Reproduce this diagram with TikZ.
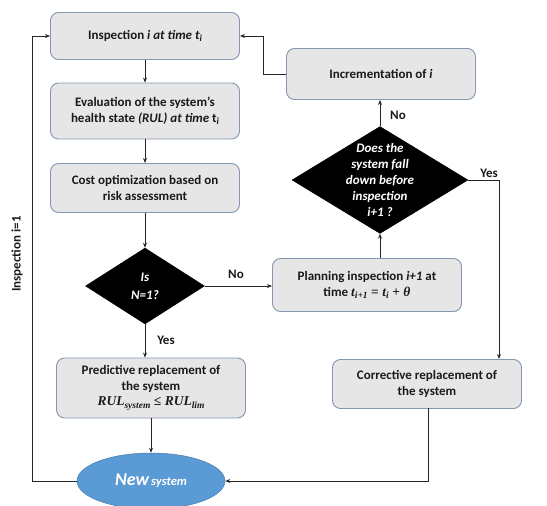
\documentclass[tikz,border=0pt]{standalone}
\usepackage{fontspec}
\setmainfont{Carlito}
\newfontfamily\mfont{Liberation Serif}
\usetikzlibrary{shapes.geometric,arrows.meta}
\definecolor{boxfill}{HTML}{E7E6E6}
\definecolor{boxline}{HTML}{8497B0}
\definecolor{ellfill}{HTML}{5B9BD5}
\definecolor{txt}{HTML}{1A1A1A}
\newcommand{\msub}[1]{\raisebox{-0.35ex}{\fontsize{9.5}{10}\selectfont #1}}
\newcommand{\mtext}[1]{{\mfont\bfseries\itshape #1}}
\newcommand{\mop}[1]{\hspace{3.5pt}{\upshape #1}\hspace{3.5pt}}
\tikzset{
  procbox/.style={draw=boxline, line width=0.9pt, fill=boxfill, rounded corners=8pt,
    minimum width=189pt, align=center, inner sep=2pt, text=txt,
    font=\fontsize{13}{15.5}\selectfont\bfseries},
  decbox/.style={diamond, fill=black, draw=black, inner sep=0pt},
  dectext/.style={text=white, align=center, font=\fontsize{13}{16}\selectfont\bfseries\itshape},
  arr/.style={-{Stealth[length=5pt,width=4pt]}, line width=0.8pt, draw=black!85},
  lbl/.style={font=\fontsize{13}{15}\selectfont\bfseries, text=txt}
}
\begin{document}
\begin{tikzpicture}[x=1pt,y=-1pt]
\useasboundingbox (0,0) rectangle (547,506);
% boxes
\node[procbox, minimum height=47pt] (insp) at (145,36) {Inspection \textit{i at time t\msub{i}}};
\node[procbox, minimum height=56pt] (eval) at (145,111) {Evaluation of the system's\\health state \textit{(RUL) at time} t\msub{\textit{i}}};
\node[procbox, minimum height=49pt] (cost) at (145,188) {Cost optimization based on\\risk assessment};
\node[decbox, minimum width=119pt, minimum height=76pt] (d1) at (145,286) {};
\node[dectext, font=\fontsize{13}{18}\selectfont\bfseries\itshape] (d1t) at (d1.center) {Is\\N=1?};
\node[procbox, minimum height=60pt] (pred) at (151,388) {Predictive replacement of\\the system\\\mtext{\fontsize{13.5}{15.5}\selectfont RUL\msub{system}\mop{≤}RUL\msub{lim}}};
\node[ellipse, fill=ellfill, draw=ellfill!80!black, line width=0.5pt, minimum width=148pt, minimum height=56pt, inner sep=0pt, text=white, font=\bfseries\itshape] (newsys) at (151,481) {{\fontsize{18}{20}\selectfont New} {\fontsize{12.5}{14}\selectfont system}};
\node[procbox, minimum height=51pt] (incr) at (381,74) {Incrementation of \textit{i}};
\node[decbox, minimum width=176pt, minimum height=107pt] (d2) at (380,180) {};
\node[dectext] (d2t) at (d2.center) {Does the\\system fall\\down before\\inspection\\i+1 ?};
\node[procbox, minimum height=53pt] (plan) at (367,285) {Planning inspection \textit{i+1} at\\time \mtext{\fontsize{13.5}{15.5}\selectfont t\msub{i+1}\mop{=}t\msub{i}\mop{+}θ}};
\node[procbox, minimum height=49pt] (corr) at (427,384) {Corrective replacement of\\the system};
% coordinates
\coordinate (lb) at (32,481);
\coordinate (lt) at (32,36);
\coordinate (ib) at (263,74);
\coordinate (it) at (263,36);
\coordinate (cr) at (499,359);
\coordinate (cb) at (428,408);
% connectors
\draw[arr] (insp) -- (eval);
\draw[arr] (eval) -- (cost);
\draw[arr] (cost.south) -- (d1.north);
\draw[arr] (d1.south) -- (d1.south |- pred.north);
\draw[arr] (pred.south) -- (newsys.north);
\draw[arr] (d1.east) -- (d1.east -| plan.west);
\draw[arr] (d2.south |- plan.north) -- (d2.south);
\draw[arr] (d2.north) -- (d2.north |- incr.south);
\draw[arr] (incr.west) -- (ib) -- (it) -- (insp.east);
\draw[arr] (d2.east) -| (cr);
\draw[arr] (cb) |- (newsys.east);
\draw[arr] (newsys.west) -- (lb) -- (lt) -- (insp.west);
% labels
\node[lbl] (yes1) at (166,340) {Yes};
\node[lbl] (no1) at (236,274) {No};
\node[lbl] (no2) at (398,115) {No};
\node[lbl] (yes2) at (489,173) {Yes};
\node[lbl, rotate=90] (insp1) at (17,254) {Inspection i=1};
\end{tikzpicture}
\end{document}
